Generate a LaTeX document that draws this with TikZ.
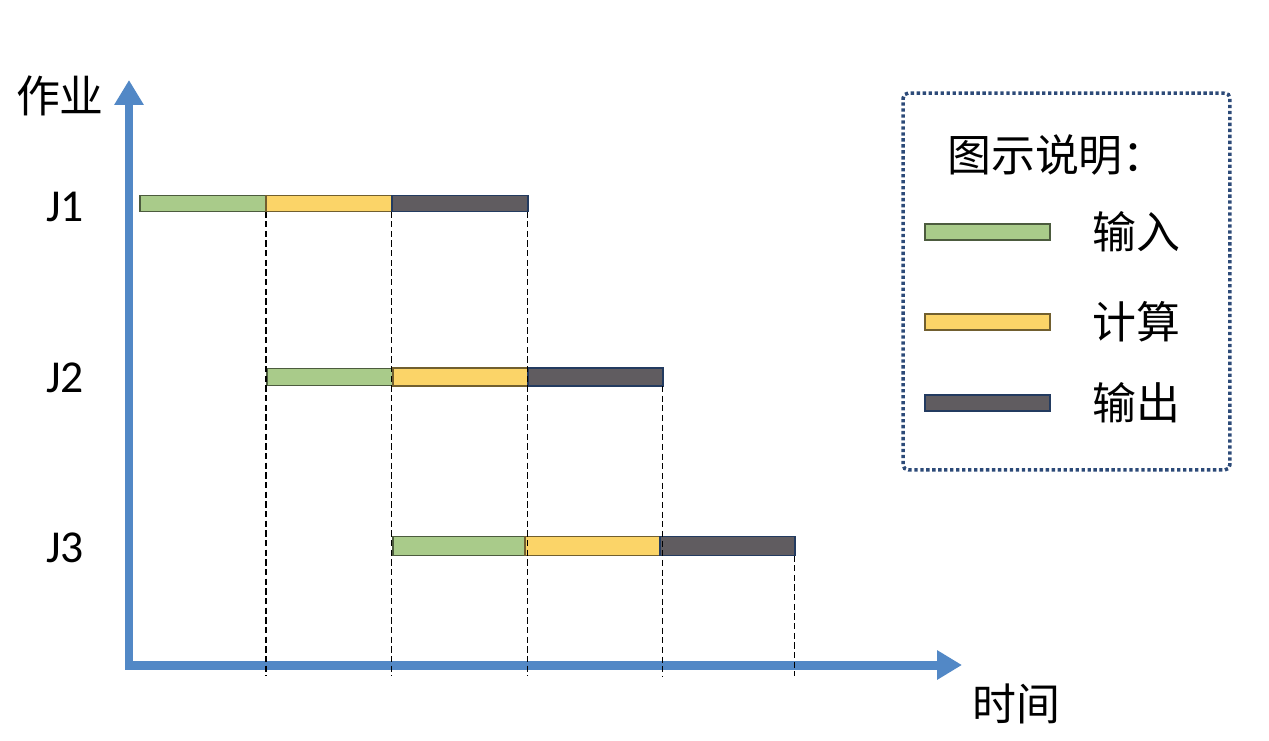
\documentclass[tikz,border=0pt]{standalone}
\usepackage{fontspec}
\newfontfamily\cjkfont{Noto Sans CJK SC}
\newfontfamily\jobfont{Carlito}
\usetikzlibrary{positioning,arrows.meta}
\definecolor{axisblue}{HTML}{5288C6}
\definecolor{inputgreen}{HTML}{A9CB8A}
\definecolor{calcyellow}{HTML}{FBD468}
\definecolor{outgray}{HTML}{605C60}
\definecolor{legendblue}{HTML}{2C4A78}

\begin{document}
\begin{tikzpicture}[x=0.02cm, y=-0.02cm, node distance=0pt,
  bar/.style={minimum height=0.32cm, inner sep=0pt, outer sep=0pt, line width=0.7pt},
  inbar/.style={bar, fill=inputgreen, draw=inputgreen!45!black},
  calcbar/.style={bar, fill=calcyellow, draw=calcyellow!45!black},
  outbar/.style={bar, fill=outgray, draw=legendblue!80!black},
  guide/.style={black, line width=0.6pt, dash pattern=on 3.5pt off 2pt},
  cjklabel/.style={font=\cjkfont\fontsize{25}{30}\selectfont, inner sep=0pt},
  joblabel/.style={font=\jobfont\fontsize{26}{30}\selectfont, inner sep=0pt}]
\useasboundingbox (0,0) rectangle (1269,741);
\coordinate (ytop) at (129,80);
\coordinate (o) at (129,665);
\coordinate (xend) at (962,665);
\coordinate (base) at (129,676);
\draw[axisblue, line width=0.18cm, line join=miter, {Triangle[length=0.5cm,width=0.56cm]}-{Triangle[length=0.5cm,width=0.56cm]}] (ytop) -- (o) -- (xend);
\node[inbar, minimum width=2.52cm, anchor=west] (j1in) at (140,203.5) {};
\node[calcbar, minimum width=2.52cm, right=of j1in] (j1calc) {};
\node[outbar, minimum width=2.72cm, right=of j1calc] (j1out) {};
\node[inbar, minimum width=2.52cm, minimum height=0.34cm, anchor=west] (j2in) at (267,377) {};
\node[calcbar, minimum width=2.7cm, minimum height=0.36cm, right=of j2in] (j2calc) {};
\node[outbar, minimum width=2.7cm, minimum height=0.36cm, right=of j2calc] (j2out) {};
\node[inbar, minimum width=2.64cm, minimum height=0.38cm, anchor=west] (j3in) at (393,546) {};
\node[calcbar, minimum width=2.7cm, minimum height=0.38cm, right=of j3in] (j3calc) {};
\node[outbar, minimum width=2.7cm, minimum height=0.38cm, right=of j3calc] (j3out) {};
\draw[guide] (j1in.south east) -- (j1in.south east |- base);
\draw[guide] (j1calc.south east) -- (j1calc.south east |- base);
\draw[guide] (j1out.south east) -- (j1out.south east |- base);
\draw[guide] (j2out.south east) -- (j2out.south east |- base);
\draw[guide] (j3out.south east) -- (j3out.south east |- base);
\node[cjklabel] (ylabel) at (60,96) {作业};
\node[cjklabel] (xlabel) at (1016,704) {时间};
\node[joblabel] (j1) at (65,207) {J1};
\node[joblabel] (j2) at (65,378) {J2};
\node[joblabel] (j3) at (65,548) {J3};
\node[draw=legendblue, line width=2pt, dash pattern=on 1.9pt off 1.5pt, rounded corners=3pt, minimum width=6.54cm, minimum height=7.54cm] (legend) at (1066.5,281.5) {};
\node[cjklabel] (legtitle) at (1057,155) {图示说明：};
\node[inbar, minimum width=2.5cm, anchor=west] (lgin) at (925,232) {};
\node[calcbar, minimum width=2.5cm, anchor=west] (lgcalc) at (925,322) {};
\node[outbar, minimum width=2.5cm, anchor=west] (lgout) at (925,403) {};
\node[cjklabel, right=0.84cm of lgin] (txtin) {输入};
\node[cjklabel, right=0.84cm of lgcalc] (txtcalc) {计算};
\node[cjklabel, right=0.84cm of lgout] (txtout) {输出};
\end{tikzpicture}
\end{document}
